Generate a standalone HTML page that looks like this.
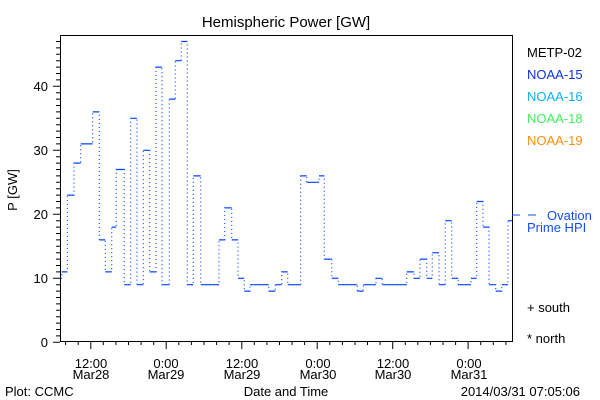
<!DOCTYPE html>
<html><head><style>
body{margin:0;background:#fff;}
svg{display:block;font-family:"Liberation Sans",sans-serif;font-size:13px;}
</style></head><body>
<svg width="600" height="400" xmlns="http://www.w3.org/2000/svg">
<rect width="600" height="400" fill="#fff"/>
<text x="286" y="27" text-anchor="middle" font-size="15">Hemispheric Power [GW]</text>
<rect x="60.5" y="35.5" width="452" height="306" fill="none" stroke="#000" stroke-width="1"/>
<path stroke="#000" stroke-width="1" fill="none" d="M53 342.3H60M56 335.9H60M56 329.5H60M56 323.1H60M56 316.7H60M56 310.3H60M56 303.9H60M56 297.5H60M56 291.1H60M56 284.7H60M53 278.3H60M56 271.9H60M56 265.5H60M56 259.1H60M56 252.7H60M56 246.3H60M56 239.9H60M56 233.5H60M56 227.1H60M56 220.7H60M53 214.3H60M56 207.9H60M56 201.5H60M56 195.1H60M56 188.7H60M56 182.3H60M56 175.9H60M56 169.5H60M56 163.1H60M56 156.7H60M53 150.3H60M56 143.9H60M56 137.5H60M56 131.1H60M56 124.7H60M56 118.3H60M56 111.9H60M56 105.5H60M56 99.1H60M56 92.7H60M53 86.3H60M56 79.9H60M56 73.5H60M56 67.1H60M56 60.7H60M56 54.3H60M56 47.9H60M56 41.5H60
M65.6 342V345M78.2 342V345M90.8 342V349M103.3 342V345M115.9 342V345M128.5 342V345M141.1 342V345M153.7 342V345M166.2 342V349M178.8 342V345M191.4 342V345M204 342V345M216.6 342V345M229.1 342V345M241.8 342V349M254.3 342V345M266.9 342V345M279.5 342V345M292.1 342V345M304.6 342V345M317.2 342V349M329.8 342V345M342.4 342V345M355 342V345M367.5 342V345M380.1 342V345M392.7 342V349M405.3 342V345M417.8 342V345M430.4 342V345M443 342V345M455.6 342V345M468.1 342V349M480.7 342V345M493.3 342V345M505.9 342V345"/>
<g font-size="13" text-anchor="end">
<text x="48" y="347">0</text><text x="48" y="283">10</text><text x="48" y="219">20</text><text x="48" y="155">30</text><text x="48" y="91">40</text>
</g>
<text transform="translate(17,190) rotate(-90)" text-anchor="middle">P [GW]</text>
<g text-anchor="middle">
<text x="91" y="368">12:00</text><text x="91" y="379">Mar28</text>
<text x="166" y="368">0:00</text><text x="166" y="379">Mar29</text>
<text x="242" y="368">12:00</text><text x="242" y="379">Mar29</text>
<text x="318" y="368">0:00</text><text x="318" y="379">Mar30</text>
<text x="393" y="368">12:00</text><text x="393" y="379">Mar30</text>
<text x="469" y="368">0:00</text><text x="469" y="379">Mar31</text>
<text x="286" y="396">Date and Time</text>
</g>
<text x="5" y="396">Plot: CCMC</text>
<text x="580" y="396" text-anchor="end">2014/03/31 07:05:06</text>
<text x="527" y="57">METP-02</text>
<text x="527" y="79" fill="#1030e0">NOAA-15</text>
<text x="527" y="101" fill="#10b0f0">NOAA-16</text>
<text x="527" y="123" fill="#40f060">NOAA-18</text>
<text x="527" y="145" fill="#ff9010">NOAA-19</text>
<line x1="512" y1="215" x2="520" y2="215" stroke="#1050f0"/>
<line x1="528" y1="215" x2="536" y2="215" stroke="#1050f0"/>
<text x="547" y="220" fill="#1050f0">Ovation</text>
<text x="527" y="232" fill="#1050f0">Prime HPI</text>
<text x="527" y="312">+ south</text>
<text x="527" y="343">* north</text>
<g fill="none" stroke="#0a4cff" stroke-width="1.2">
<path stroke-dasharray="1 3" d="M60.7 278.3H61.7V271.9H67.3V195.1H74V163.1H80.7V143.9H92.7V111.9H99.3V239.9H105.3V271.9H111.7V227.1H116.3V169.5H124.3V284.7H130.7V118.3H137V284.7H143.3V150.3H149.7V271.9H156V67.1H162V284.7H169.3V99.1H175.3V60.7H181.3V41.5H187.3V284.7H193.3V175.9H200.7V284.7H219V239.9H224.7V207.9H231.7V239.9H238V278.3H244.3V291.1H250V284.7H268.7V291.1H275.3V284.7H281.7V271.9H287.7V284.7H300.7V175.9H306.7V182.3H319V175.9H324.3V259.1H331.7V278.3H338.3V284.7H357.3V291.1H363.3V284.7H376V278.3H382.3V284.7H406.7V271.9H414V278.3H420V259.1H426.7V278.3H432.3V252.7H439V284.7H445.3V220.7H451.7V278.3H458.3V284.7H471V278.3H476.7V201.5H483V227.1H489V284.7H495.7V291.1H501.7V284.7H508V220.7H512"/>
<path d="M60.7 278.3H61.7M61.7 271.9H67.3M67.3 195.1H74M74 163.1H80.7M80.7 143.9H92.7M92.7 111.9H99.3M99.3 239.9H105.3M105.3 271.9H111.7M111.7 227.1H116.3M116.3 169.5H124.3M124.3 284.7H130.7M130.7 118.3H137M137 284.7H143.3M143.3 150.3H149.7M149.7 271.9H156M156 67.1H162M162 284.7H169.3M169.3 99.1H175.3M175.3 60.7H181.3M181.3 41.5H187.3M187.3 284.7H193.3M193.3 175.9H200.7M200.7 284.7H219M219 239.9H224.7M224.7 207.9H231.7M231.7 239.9H238M238 278.3H244.3M244.3 291.1H250M250 284.7H268.7M268.7 291.1H275.3M275.3 284.7H281.7M281.7 271.9H287.7M287.7 284.7H300.7M300.7 175.9H306.7M306.7 182.3H319M319 175.9H324.3M324.3 259.1H331.7M331.7 278.3H338.3M338.3 284.7H357.3M357.3 291.1H363.3M363.3 284.7H376M376 278.3H382.3M382.3 284.7H406.7M406.7 271.9H414M414 278.3H420M420 259.1H426.7M426.7 278.3H432.3M432.3 252.7H439M439 284.7H445.3M445.3 220.7H451.7M451.7 278.3H458.3M458.3 284.7H471M471 278.3H476.7M476.7 201.5H483M483 227.1H489M489 284.7H495.7M495.7 291.1H501.7M501.7 284.7H508M508 220.7H512"/>
</g>
</svg>
</body></html>
